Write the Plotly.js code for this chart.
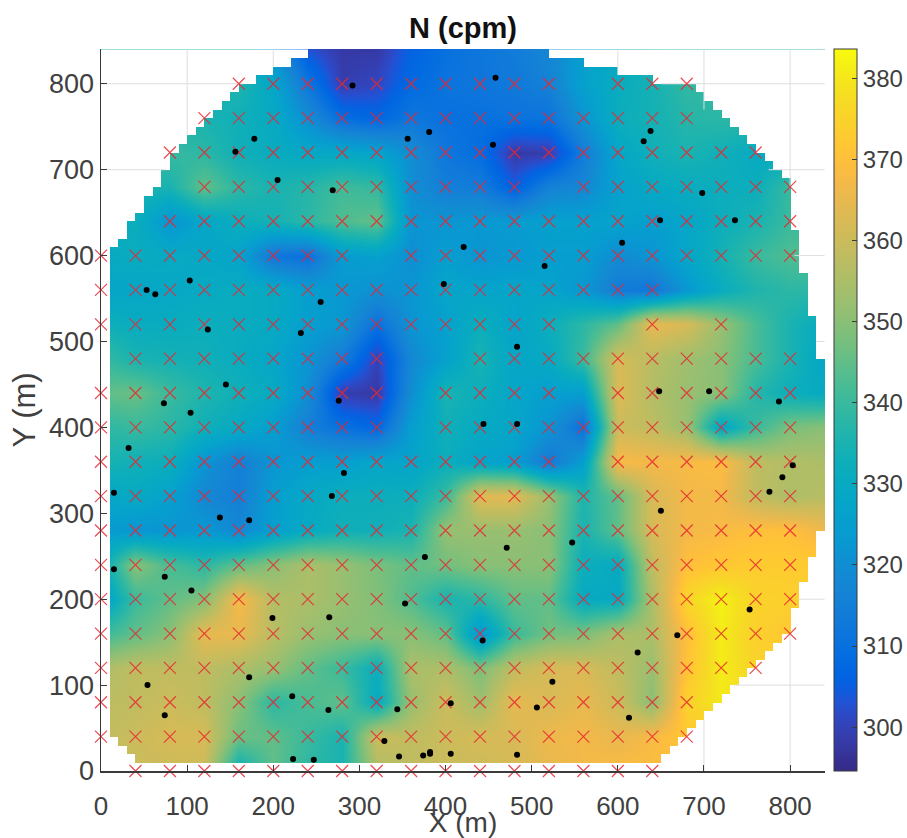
<!DOCTYPE html>
<html><head><meta charset="utf-8">
<script src="https://cdn.plot.ly/plotly-3.0.1.min.js"></script>
<style>html,body{margin:0;padding:0;background:#fff}#c{width:907px;height:838px}</style>
</head><body><div id="c"></div>
<script>
var nodeX=[0,40,80,120,160,200,240,280,320,360,400,440,480,520,560,600,640,680,720,760,800,840];
var nodeY=[840,800,760,720,680,640,600,560,520,480,440,400,360,320,280,240,200,160,120,80,40,0];
var nRows=[
[335,335,335,335,335,322,303,298,298,306,310,312,314,318,325,330,335,338,338,338,338,338],
[335,335,335,335,336,328,312,299,301,308,311,312,313,316,326,331,334,339,339,338,338,338],
[335,335,335,335,333,330,320,309,307,312,310,310,311,311,322,332,334,337,338,338,338,338],
[340,340,340,338,333,331,329,329,327,320,312,309,298,299,314,328,333,335,333,330,330,330],
[335,335,335,345,338,335,337,341,339,320,315,314,305,316,318,326,330,331,332,332,340,340],
[332,332,322,328,332,334,338,343,345,322,322,323,324,326,326,327,325,328,332,335,340,340],
[330,331,330,329,327,312,310,324,326,320,325,322,323,325,325,319,322,328,334,340,343,343],
[328,328,329,330,331,330,325,323,321,322,328,327,328,327,323,314,312,323,331,336,338,338],
[333,331,331,332,331,330,325,323,310,322,326,332,327,332,338,345,365,362,352,342,335,330],
[340,335,334,333,331,328,322,314,300,318,326,335,328,330,340,362,357,353,350,342,335,328],
[345,346,340,336,333,330,320,299,298,320,335,332,328,325,325,363,356,352,350,337,332,330],
[338,340,338,333,330,325,315,310,307,325,333,330,328,322,310,360,358,352,328,340,348,350],
[335,333,332,322,315,322,325,325,328,327,332,327,325,313,325,368,367,368,369,358,356,355],
[328,330,326,318,315,325,329,332,332,332,340,364,364,352,336,345,362,367,367,358,355,357],
[325,322,322,323,318,325,330,333,333,335,352,352,352,350,335,345,362,367,368,370,370,366],
[330,350,342,338,345,350,355,352,348,345,347,350,350,350,332,330,358,370,372,373,373,373],
[325,340,345,349,368,356,355,352,349,343,335,338,345,345,330,330,355,376,382,375,374,374],
[340,345,350,365,365,357,352,350,350,350,345,322,340,347,348,355,355,370,381,374,372,372],
[355,358,358,358,355,352,345,340,332,355,355,348,358,362,362,358,352,371,381,375,375,375],
[358,358,360,358,350,338,342,345,330,352,360,353,365,362,365,360,350,375,380,378,378,378],
[358,360,362,362,346,345,340,335,360,358,360,362,362,366,367,365,368,372,372,372,372,372],
[358,360,360,360,332,345,338,335,355,358,360,360,362,365,367,369,369,370,370,370,370,370]
];
// image footprint: one row per 10 m band (band bottom, left edge, right edge)
var bandBottom=[10,20,30,40,50,60,70,80,90,100,110,120,130,140,150,160,170,180,190,200,210,220,230,240,250,260,270,280,290,300,310,320,330,340,350,360,370,380,390,400,410,420,430,440,450,460,470,480,490,500,510,520,530,540,550,560,570,580,590,600,610,620,630,640,650,660,670,680,690,700,710,720,730,740,750,760,770,780,790,800,810,820,830];
var bandLeft=[40,30,20,10,10,10,10,10,10,10,10,10,10,10,10,10,10,10,10,10,10,10,10,10,10,10,10,10,10,10,10,10,10,10,10,10,10,10,10,10,10,10,10,10,10,10,10,10,10,10,10,10,10,10,10,10,10,10,10,10,20,30,30,40,50,50,60,70,70,80,80,90,100,110,120,130,140,150,160,180,200,220,240];
var bandRight=[650,660,670,680,690,700,710,720,730,740,750,760,770,780,790,800,800,800,810,810,810,820,820,820,830,830,830,840,840,840,840,840,840,840,840,840,840,840,840,840,840,840,840,840,840,840,840,830,830,830,830,830,820,820,820,820,820,810,810,810,810,810,800,800,800,800,800,800,790,780,770,760,750,740,730,720,710,700,690,640,600,560,520];

var xTickVals=[0,100,200,300,400,500,600,700,800];
var cbTicks=[300,310,320,330,340,350,360,370,380];

// sampling sites (x ranges per row, with skipped positions)
var siteRowY=[800,760,720,680,640,600,560,520,480,440,400,360,320,280,240,200,160,120,80,40,0];
var siteRowX0=[160,120,80,120,80,0,0,0,40,0,0,0,0,0,0,0,0,0,0,0,40];
var siteRowX1=[680,680,760,800,800,800,640,720,800,800,800,800,800,800,800,800,800,760,680,680,640];
var siteRowSkip=[[560],[],[],[520],[],[320],[],[560,600,680],[360,400],[360,560],[360],[560],[],[],[],[],[],[],[],[],[]];

var dotX=[292,381,356,178,156,205,269,421,103,53,63,255,398,124,232,145,276,73,104,32,15,138,172,282,268,15,74,105,376,353,199,265,172,54,222,406,264,344,74,329,346,374,382,382,406,223,247,458,455,638,630,698,649,736,605,515,483,648,706,787,444,483,803,791,776,650,471,547,753,443,669,623,524,506,613,483];
var dotY=[798,744,736,736,721,688,676,610,571,560,555,546,567,514,510,450,431,428,417,376,324,295,292,347,320,235,226,210,249,195,178,179,109,100,87,79,71,72,65,35,17,18,22,20,20,14,13,807,729,745,733,673,641,641,615,588,494,442,442,430,404,404,356,342,325,303,260,266,188,152,158,138,104,74,62,19];

// light reference lines visible outside the image footprint
var gridX=[100,100,null,200,200,null,600,600,null,700,700,null,800,800,null,700,700,null,800,800,null,0,165,null,650,840,null,0,75,null,775,840,null,805,840,null,830,840,null,810,840,null,735,840];
var gridY=[740,840,null,820,840,null,810,840,null,770,840,null,680,840,null,0,60,null,0,160,null,800,800,null,800,800,null,700,700,null,700,700,null,600,600,null,500,500,null,200,200,null,100,100];

var parula=[[.2081,.1663,.5292],[.2116,.1898,.5777],[.2123,.2138,.6270],[.2081,.2386,.6771],[.1959,.2645,.7279],[.1707,.2919,.7792],[.1253,.3242,.8303],[.0591,.3598,.8683],[.0117,.3875,.8820],[.0060,.4086,.8828],[.0165,.4266,.8786],[.0329,.4430,.8720],[.0498,.4586,.8641],[.0629,.4737,.8554],[.0723,.4887,.8467],[.0779,.5040,.8384],[.0793,.5200,.8312],[.0749,.5375,.8263],[.0641,.5570,.8240],[.0488,.5772,.8228],[.0343,.5966,.8199],[.0265,.6137,.8135],[.0239,.6287,.8038],[.0231,.6418,.7913],[.0228,.6535,.7768],[.0267,.6642,.7607],[.0384,.6743,.7436],[.0590,.6838,.7254],[.0843,.6928,.7062],[.1133,.7015,.6859],[.1453,.7098,.6646],[.1801,.7177,.6424],[.2178,.7250,.6190],[.2586,.7317,.5954],[.3022,.7376,.5712],[.3482,.7424,.5473],[.3953,.7459,.5244],[.4420,.7481,.5033],[.4871,.7491,.4840],[.5300,.7491,.4661],[.5709,.7485,.4494],[.6099,.7473,.4337],[.6473,.7456,.4188],[.6834,.7435,.4044],[.7184,.7411,.3905],[.7525,.7384,.3768],[.7858,.7356,.3633],[.8185,.7327,.3498],[.8507,.7299,.3360],[.8824,.7274,.3217],[.9139,.7258,.3063],[.9450,.7261,.2886],[.9739,.7314,.2666],[.9938,.7455,.2403],[.9990,.7653,.2164],[.9955,.7861,.1967],[.9880,.8066,.1794],[.9789,.8271,.1633],[.9697,.8481,.1475],[.9626,.8705,.1309],[.9589,.8949,.1132],[.9598,.9218,.0948],[.9661,.9514,.0755],[.9763,.9831,.0538]];
var colorscale=parula.map(function(c,i){return [i/(parula.length-1),'rgb('+c.map(function(v){return Math.round(v*255)}).join(',')+')'];});

var zAsc=nRows.slice().reverse(), yAsc=nodeY.slice().reverse();

// footprint mask on a 10 m lattice
var mx=[],my=[],mz=[];
for(var i=0;i<84;i++){mx.push(5+i*10);my.push(5+i*10);}
for(var r=0;r<84;r++){
  var row=[],k=bandBottom.indexOf(r*10);
  for(var c=0;c<84;c++){
    var l=c*10;
    row.push(k<0||l<bandLeft[k]||l>=bandRight[k]?1:null);
  }
  mz.push(row);
}

var sx=[],sy=[];
siteRowY.forEach(function(y,i){
  for(var x=siteRowX0[i];x<=siteRowX1[i];x+=40){
    if(siteRowSkip[i].indexOf(x)<0){sx.push(x);sy.push(y);}
  }
});

var axisColor='#3a3a3a';
var tf={family:'Liberation Sans, Arial, sans-serif',size:27,color:'#404040'};
var axisCommon={range:[0,840.5],autorange:false,showgrid:false,zeroline:false,showline:true,linecolor:axisColor,linewidth:1.5,
  ticks:'inside',ticklen:6,tickcolor:axisColor,tickwidth:1,tickvals:xTickVals,ticktext:xTickVals.map(String),tickfont:tf,mirror:false};

var traces=[
 {type:'heatmap',x:nodeX,y:yAsc,z:zAsc,zsmooth:'best',colorscale:colorscale,zmin:294.6,zmax:383.6,hoverinfo:'skip',
  colorbar:{x:1.0131,xanchor:'left',y:0.5,yanchor:'middle',len:1,lenmode:'fraction',thickness:22.5,thicknessmode:'pixels',xpad:0,ypad:0,
    tickvals:cbTicks,ticktext:cbTicks.map(String),ticks:'inside',ticklen:5,tickcolor:axisColor,outlinecolor:axisColor,outlinewidth:1,
    tickfont:{family:tf.family,size:24,color:'#404040'}}},
 {type:'heatmap',x:mx,y:my,z:mz,zsmooth:false,showscale:false,colorscale:[[0,'#ffffff'],[1,'#ffffff']],zmin:0,zmax:2,hoverinfo:'skip'},
 {type:'scatter',mode:'lines',x:gridX,y:gridY,line:{color:'#dedede',width:1},hoverinfo:'skip',showlegend:false,connectgaps:false},
 {type:'scatter',mode:'markers',x:sx,y:sy,cliponaxis:false,marker:{symbol:'x-thin',size:12,line:{color:'rgba(232,40,50,0.85)',width:1.2}},hoverinfo:'skip',showlegend:false},
 {type:'scatter',mode:'markers',x:dotX,y:dotY,cliponaxis:false,marker:{color:'#000',size:6},hoverinfo:'skip',showlegend:false}
];
var layout={width:907,height:838,paper_bgcolor:'#fff',plot_bgcolor:'#fff',showlegend:false,
  margin:{l:101,r:81.5,t:49,b:67,autoexpand:false},
  title:{text:'<b>N (cpm)</b>',font:{family:tf.family,size:29,color:'#111'},x:463/907,xanchor:'center',y:1-38/838,yanchor:'bottom',xref:'container',yref:'container',automargin:false},
  xaxis:Object.assign({},axisCommon,{tickfont:{family:tf.family,size:26,color:'#404040'},ticklabelstandoff:11,title:{text:'X (m)',font:{family:tf.family,size:28,color:'#404040'},standoff:9}}),
  yaxis:Object.assign({},axisCommon,{title:{text:'Y (m)',font:{family:tf.family,size:31,color:'#404040'},standoff:4}})
};
Plotly.newPlot('c',traces,layout,{displayModeBar:false,staticPlot:true});
</script></body></html>
